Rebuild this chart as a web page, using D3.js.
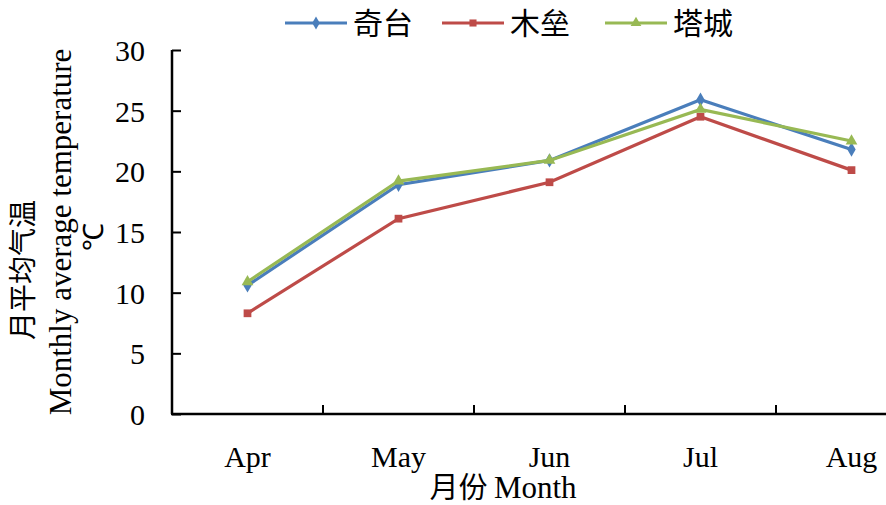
<!DOCTYPE html>
<html><head><meta charset="utf-8">
<script src="https://cdn.jsdelivr.net/npm/d3@7/dist/d3.min.js"></script>
<style>body{margin:0;background:#fff}svg{display:block}</style>
</head><body>
<script>
const months = ["Apr","May","Jun","Jul","Aug"];
const seriesNames = ["奇台","木垒","塔城"];
const qitai = [10.6,18.9,20.9,25.9,21.8];
const mulei = [8.3,16.1,19.1,24.5,20.1];
const tacheng = [10.9,19.2,20.9,25.1,22.5];
const yTicks = [0,5,10,15,20,25,30];
const colors = ["#4a7ebb","#be4b48","#98b954"];

const W=886,H=505;
const svg=d3.select("body").append("svg").attr("width",W).attr("height",H);
const x=d3.scaleBand().domain(months).range([172,172+151*5]);
const y=d3.scaleLinear().domain([0,30]).range([414,50]);
const serif="'Liberation Serif','Times New Roman',serif";
const cjk="'Noto Sans CJK SC',sans-serif";

// y axis
const ya=svg.append("g").attr("transform","translate(172,0)")
 .call(d3.axisRight(y).tickValues(yTicks).tickSize(9).tickFormat(d3.format("d")))
 .attr("font-family",serif).attr("font-size",30);
ya.select(".domain").attr("stroke","#000").attr("stroke-width",2.5).attr("d","M0,50V414");
ya.selectAll(".tick line").attr("stroke","#000").attr("stroke-width",2);
ya.selectAll(".tick text").attr("x",-27).attr("text-anchor","end").attr("dy","0.35em")
 .style("font-family",serif).style("font-size","30px").attr("fill","#000");

// x axis
const xa=svg.append("g").attr("transform","translate(0,414)")
 .call(d3.axisTop(x).tickSize(0).tickFormat(d=>d))
 .attr("font-family",serif).attr("font-size",30);
xa.select(".domain").attr("stroke","#000").attr("stroke-width",2.5).attr("d","M171,0H886");
xa.selectAll(".tick text").attr("y",42).attr("dy","0.35em").attr("text-anchor","middle")
 .style("font-family",serif).style("font-size","30px").attr("fill","#000");
// boundary ticks
svg.append("g").selectAll("line").data(months.slice(1)).join("line")
 .attr("x1",d=>x(d)).attr("x2",d=>x(d)).attr("y1",414).attr("y2",405)
 .attr("stroke","#000").attr("stroke-width",2);

// lines
const all=[qitai,mulei,tacheng];
const line=d3.line().x((d,i)=>x(months[i])+x.bandwidth()/2).y(d=>y(d));
const shapes=[d3.symbolDiamond,d3.symbolSquare,d3.symbolTriangle];
all.forEach((s,k)=>{
 svg.append("path").datum(s).attr("d",line).attr("fill","none")
  .attr("stroke",colors[k]).attr("stroke-width",3.2);
 svg.append("g").selectAll("path").data(s).join("path")
  .attr("transform",(d,i)=>`translate(${x(months[i])+x.bandwidth()/2},${y(d)})`)
  .attr("d",d3.symbol().type(shapes[k]).size(60)).attr("fill",colors[k]);
});

// legend
const legX=[285,442,605];
seriesNames.forEach((n,k)=>{
 const g=svg.append("g").attr("transform",`translate(${legX[k]},23)`);
 g.append("line").attr("x1",0).attr("x2",62).attr("stroke",colors[k]).attr("stroke-width",3);
 g.append("path").attr("transform","translate(31,0)").attr("d",d3.symbol().type(shapes[k]).size(50)).attr("fill",colors[k]);
 g.append("text").attr("x",68).attr("y",11).text(n)
  .style("font-family",cjk).style("font-size","30px").attr("fill","#000");
});

// y title
svg.append("text").attr("transform","translate(23,270) rotate(-90)").attr("text-anchor","middle")
 .attr("dy","0.35em").text("月平均气温").style("font-family",cjk).style("font-size","28px").attr("fill","#000");
svg.append("text").attr("transform","translate(60,232) rotate(-90)").attr("text-anchor","middle")
 .attr("dy","0.35em").text("Monthly average temperature").style("font-family",serif).style("font-size","31px").attr("fill","#000");
svg.append("text").attr("transform","translate(93,237) rotate(-90)").attr("text-anchor","middle")
 .attr("dy","0.35em").text("℃").style("font-family",serif).style("font-size","28px").attr("fill","#000");

// x title
const xt=svg.append("text").attr("x",503).attr("y",492).attr("dy","0.35em").attr("text-anchor","middle").attr("fill","#000");
xt.append("tspan").text("月份 ").style("font-family",cjk).style("font-size","29px");
xt.append("tspan").text("Month").style("font-family",serif).style("font-size","31px");
</script>
</body></html>
